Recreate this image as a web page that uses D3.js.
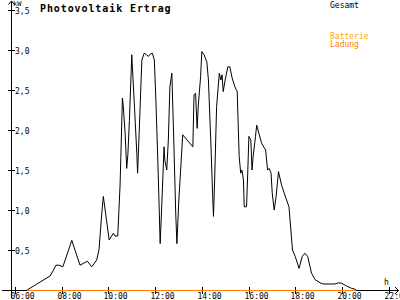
<!DOCTYPE html>
<html>
<head>
<meta charset="utf-8">
<script src="https://cdn.jsdelivr.net/npm/d3@7"></script>
<style>
    body { margin: 0; background: #fff; }
    svg { display: block; }
    text { font-family: "DejaVu Sans Mono", "Liberation Mono", monospace; }
</style>
</head>
<body>
<svg id="chart" width="400" height="300"></svg>
<script>

// Data
const times = ['06:31', '07:30', '07:38', '07:45', '07:53', '08:03', '08:26', '08:47', '09:06', '09:17',
    '09:30', '09:36', '09:43', '09:47', '10:02', '10:13', '10:17', '10:24', '10:30', '10:32',
    '10:36', '10:38', '10:43', '10:47', '10:50', '10:54', '11:00', '11:07', '11:13', '11:15',
    '11:19', '11:26', '11:32', '11:38', '11:43', '11:48', '11:53', '11:58', '12:02', '12:08',
    '12:13', '12:17', '12:23', '12:25', '12:30', '12:34', '12:38', '12:43', '12:48', '12:53',
    '12:56', '13:01', '13:11', '13:37', '13:40', '13:44', '13:48', '13:51', '13:57', '14:00',
    '14:06', '14:13', '14:17', '14:23', '14:28', '14:30', '14:33', '14:38', '14:45', '14:49',
    '14:52', '14:55', '15:00', '15:07', '15:12', '15:18', '15:25', '15:31', '15:36', '15:40',
    '15:43', '15:47', '15:49', '15:55', '15:58', '16:01', '16:06', '16:09', '16:12', '16:18',
    '16:21', '16:34', '16:44', '16:49', '16:53', '16:58', '17:01', '17:06', '17:11', '17:17',
    '17:25', '17:36', '17:44', '17:53', '18:00', '18:10', '18:18', '18:25', '18:32', '18:42',
    '18:51', '19:04', '19:12', '19:42', '19:51', '19:59', '20:12', '20:25', '20:34', '20:36'];

const gesamt = [0, 0.175, 0.24, 0.31, 0.31, 0.29, 0.62, 0.31, 0.36, 0.29,
    0.375, 0.51, 0.96, 1.17, 0.625, 0.71, 0.675, 0.675, 1.31, 1.67,
    2.40, 2.31, 1.96, 1.52, 1.69, 2.12, 2.94, 2.29, 1.71, 1.46,
    1.96, 2.875, 2.96, 2.94, 2.92, 2.95, 2.96, 2.875, 2.375, 1.46,
    0.58, 1.04, 1.79, 1.625, 1.5, 1.875, 2.54, 2.71, 1.875, 0.96,
    0.58, 1.125, 1.94, 1.79, 2.44, 2.46, 2.02, 2.31, 2.67, 2.98,
    2.94, 2.85, 2.625, 1.875, 1.17, 0.92, 1.375, 2.29, 2.71, 2.625,
    2.69, 2.48, 2.625, 2.79, 2.79, 2.65, 2.54, 2.48, 1.67, 1.46,
    1.5, 1.375, 1.04, 1.04, 1.46, 1.92, 1.875, 1.5, 1.67, 1.92,
    2.06, 1.83, 1.75, 1.5, 1.52, 1.46, 1.21, 1.0, 1.17, 1.48,
    1.31, 1.15, 1.04, 0.5, 0.42, 0.27, 0.42, 0.46, 0.42, 0.21,
    0.13, 0.09, 0.075, 0.075, 0.09, 0.085, 0.05, 0.02, 0.01, 0];

// battery charging stays at zero the whole day
const ladungTimes = ['06:31', '20:36'];
const ladung = [0, 0];

const xTicks = [6, 8, 10, 12, 14, 16, 18, 20, 22];
const yTicks = [0.5, 1.0, 1.5, 2.0, 2.5, 3.0, 3.5];

const title = 'Photovoltaik Ertrag';
const legendItems = [
    {label: 'Gesamt', color: '#000000'},
    {label: 'Batterie', color: '#ffaa00'},
    {label: 'Ladung', color: '#ff8000'}
];

//convert "HH:MM" to decimal hours
function toHours(s) {
    let p = s.split(':');
    return +p[0] + (+p[1]) / 60;
}

const svg = d3.select('#chart');

const x = d3.scaleLinear().domain([6, 22]).range([15, 388.6]);
const y = d3.scaleLinear().domain([0, 3.5]).range([290, 10]);

const axisColor = '#000';

// axes lines
svg.append('line')
    .attr('x1', 2).attr('x2', 398.5)
    .attr('y1', y(0) + 0.5).attr('y2', y(0) + 0.5)
    .attr('stroke', axisColor).attr('shape-rendering', 'crispEdges');

svg.append('line')
    .attr('x1', 11.5).attr('x2', 11.5)
    .attr('y1', 1).attr('y2', 298)
    .attr('stroke', axisColor).attr('shape-rendering', 'crispEdges');

// arrow heads
svg.append('polyline')
    .attr('points', '8.5,4.5 11.5,1 14.5,4.5')
    .attr('fill', 'none').attr('stroke', axisColor);

svg.append('polyline')
    .attr('points', '395,287 398.5,290.5 395,294')
    .attr('fill', 'none').attr('stroke', axisColor);

// y ticks
const yt = svg.selectAll('.ytick')
    .data(yTicks)
    .enter().append('g')
    .attr('class', 'ytick')
    .attr('transform', d => 'translate(0,' + Math.round(y(d)) + ')');

yt.append('line')
    .attr('x1', 8).attr('x2', 15)
    .attr('y1', 0.5).attr('y2', 0.5)
    .attr('stroke', axisColor).attr('shape-rendering', 'crispEdges');

yt.append('text')
    .attr('x', 15)
    .attr('y', 3.5)
    .attr('font-size', '8px')
    .attr('fill', '#000')
    .text(d => d.toFixed(1).replace('.', ','));

// x ticks
const xt = svg.selectAll('.xtick')
    .data(xTicks)
    .enter().append('g')
    .attr('class', 'xtick')
    .attr('transform', d => 'translate(' + Math.round(x(d)) + ',0)');

xt.append('line')
    .attr('x1', 0.5).attr('x2', 0.5)
    .attr('y1', 287).attr('y2', 294)
    .attr('stroke', axisColor).attr('shape-rendering', 'crispEdges');

xt.append('text')
    .attr('x', -4.5)
    .attr('y', 299)
    .attr('font-size', '8px')
    .attr('fill', '#000')
    .text(d => (d < 10 ? '0' : '') + d + ':00');

// axis units
svg.append('text')
    .attr('x', 13).attr('y', 5.5)
    .attr('font-size', '7px')
    .text('kW');

svg.append('text')
    .attr('x', 384).attr('y', 285)
    .attr('font-size', '8px')
    .text('h');

// title
svg.append('text')
    .attr('x', 40).attr('y', 11.5)
    .attr('font-size', '10px')
    .attr('font-weight', 'bold')
    .attr('letter-spacing', '0.9px')
    .text(title);

// legend
svg.selectAll('.legend-item')
    .data(legendItems)
    .enter().append('text')
    .attr('class', 'legend-item')
    .attr('x', 330)
    .attr('y', (d, i) => i == 0 ? 7.5 : 31 + i * 8)
    .attr('font-size', '8px')
    .attr('fill', d => d.color)
    .text(d => d.label);

// series
const line = d3.line()
    .x(d => x(d[0]))
    .y(d => y(d[1]));

const gesamtData = times.map((t, i) => [toHours(t), gesamt[i]]);
const ladungData = ladungTimes.map((t, i) => [toHours(t), ladung[i]]);

svg.append('path')
    .datum(gesamtData)
    .attr('d', line)
    .attr('fill', 'none')
    .attr('stroke', '#000')
    .attr('stroke-width', 1);

svg.append('path')
    .datum(ladungData)
    .attr('d', d3.line().x(d => x(d[0])).y(d => y(d[1]) + 0.5))
    .attr('fill', 'none')
    .attr('stroke', legendItems[2].color)
    .attr('stroke-width', 1)
    .attr('shape-rendering', 'crispEdges');

</script>
</body>
</html>
